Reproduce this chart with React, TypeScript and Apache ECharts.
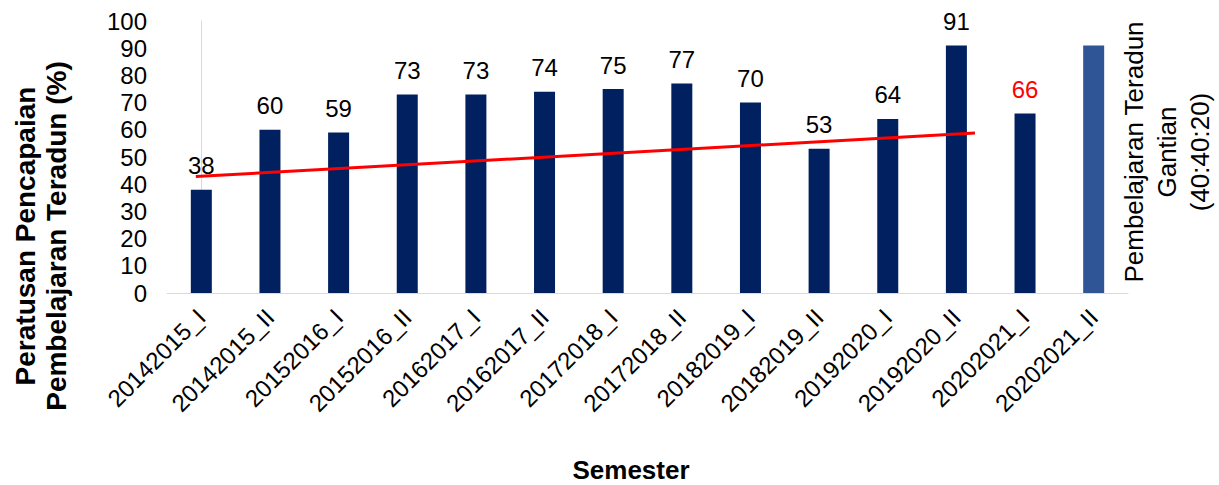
import React, { useEffect, useRef } from "react";
import * as echarts from "echarts";

const categories = [
  "20142015_I", "20142015_II", "20152016_I", "20152016_II", "20162017_I", "20162017_II",
  "20172018_I", "20172018_II", "20182019_I", "20182019_II", "20192020_I", "20192020_II",
  "20202021_I", "20202021_II",
];
const values = [38, 60, 59, 73, 73, 74, 75, 77, 70, 53, 64, 91, 66, 91];
// trend line endpoints: [category position, value]
const trendStart = [-0.08, 42.8];
const trendEnd = [11.27, 58.8];
const yTicks = { min: 0, max: 100, interval: 10 };

const FONT = "'Liberation Sans', Arial, sans-serif";

export default function App() {
  const ref = useRef<HTMLDivElement>(null);
  useEffect(() => {
    document.body.style.margin = "0";
    if (!ref.current) return;
    const chart = echarts.init(ref.current, undefined, { renderer: "svg" });
    const n = categories.length;
    const barData = values.map((v, i) => {
      const last = i === n - 1;
      const red = i === n - 2;
      return {
        value: v,
        itemStyle: { color: last ? "#2F5597" : "#002060" },
        label: {
          show: !last,
          color: red ? "#FF0000" : "#000000",
        },
      };
    });
    chart.setOption({
      animation: false,
      textStyle: { fontFamily: FONT },
      grid: { left: 167, right: 91, top: 21, bottom: 192, containLabel: false },
      xAxis: [
        {
          type: "category",
          data: categories,
          axisLine: { show: true, lineStyle: { color: "#D9D9D9", width: 1 } },
          axisTick: { show: false },
          axisLabel: {
            rotate: 45,
            fontSize: 24,
            color: "#000",
            fontFamily: FONT,
            margin: 20,
            interval: 0,
          },
        },
        {
          type: "value",
          min: -0.5,
          max: n - 0.5,
          show: false,
          position: "bottom",
        },
      ],
      yAxis: {
        type: "value",
        min: yTicks.min,
        max: yTicks.max,
        interval: yTicks.interval,
        axisLine: { show: true, lineStyle: { color: "#D9D9D9", width: 1 } },
        axisTick: { show: false },
        splitLine: { show: false },
        axisLabel: { fontSize: 24, color: "#000", fontFamily: FONT, margin: 20 },
      },
      series: [
        {
          type: "bar",
          xAxisIndex: 0,
          data: barData,
          barWidth: 21,
          label: {
            show: true,
            position: "top",
            distance: 12,
            fontSize: 24,
            fontFamily: FONT,
          },
          z: 2,
        },
        {
          type: "line",
          xAxisIndex: 1,
          data: [trendStart, trendEnd],
          symbol: "none",
          lineStyle: { color: "#FF0000", width: 3 },
          z: 3,
        },
      ],
      graphic: [
        {
          type: "text",
          x: 40.5,
          y: 236,
          rotation: Math.PI / 2,
          style: {
            text: "Peratusan Pencapaian\nPembelajaran Teradun (%)",
            font: `bold 28px ${FONT}`,
            fill: "#000",
            align: "center",
            verticalAlign: "middle",
            lineHeight: 31,
          },
        },
        {
          type: "text",
          x: 631,
          y: 470,
          style: {
            text: "Semester",
            font: `bold 26px ${FONT}`,
            fill: "#000",
            align: "center",
            verticalAlign: "middle",
          },
        },
        {
          type: "text",
          x: 1167,
          y: 152,
          rotation: Math.PI / 2,
          style: {
            text: "Pembelajaran Teradun\nGantian\n(40:40:20)",
            font: `26px ${FONT}`,
            fill: "#000",
            align: "center",
            verticalAlign: "middle",
            lineHeight: 33,
          },
        },
      ],
    });
    return () => chart.dispose();
  }, []);
  return <div ref={ref} style={{ width: 1219, height: 485 }} />;
}
